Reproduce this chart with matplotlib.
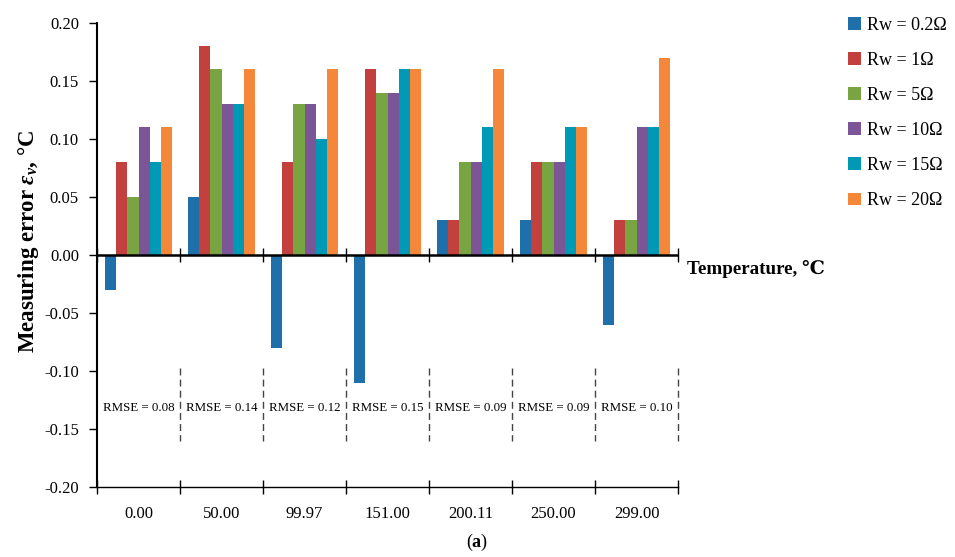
import numpy as np
import matplotlib
matplotlib.use("Agg")
import matplotlib.pyplot as plt

# data
temps = ["0.00", "50.00", "99.97", "151.00", "200.11", "250.00", "299.00"]
series = ["Rw = 0.2Ω", "Rw = 1Ω", "Rw = 5Ω", "Rw = 10Ω", "Rw = 15Ω", "Rw = 20Ω"]
rw_02 = [-0.03, 0.05, -0.08, -0.11, 0.03, 0.03, -0.06]
rw_1 = [0.08, 0.18, 0.08, 0.16, 0.03, 0.08, 0.03]
rw_5 = [0.05, 0.16, 0.13, 0.14, 0.08, 0.08, 0.03]
rw_10 = [0.11, 0.13, 0.13, 0.14, 0.08, 0.08, 0.11]
rw_15 = [0.08, 0.13, 0.10, 0.16, 0.11, 0.11, 0.11]
rw_20 = [0.11, 0.16, 0.16, 0.16, 0.16, 0.11, 0.17]
rmse = ["0.08", "0.14", "0.12", "0.15", "0.09", "0.09", "0.10"]
yticks = [-0.20, -0.15, -0.10, -0.05, 0.00, 0.05, 0.10, 0.15, 0.20]

colors = ["#1F6FAA", "#C2413F", "#78A442", "#7B5595", "#0099B5", "#F5873A"]

plt.rcParams["font.family"] = ["Liberation Serif", "DejaVu Serif"]
plt.rcParams["axes.unicode_minus"] = False
plt.rcParams["mathtext.fontset"] = "custom"
plt.rcParams["mathtext.it"] = "Liberation Serif:italic:bold"
plt.rcParams["mathtext.bf"] = "Liberation Serif:bold"
plt.rcParams["mathtext.rm"] = "Liberation Serif"

fig = plt.figure(figsize=(9.55, 5.57), dpi=100)
ax = fig.add_axes([0.1016, 0.1257, 0.6084, 0.833])

x = np.arange(len(temps))
n = len(series)
w = 0.8 / n
for i, (name, vals) in enumerate(zip(series, [rw_02, rw_1, rw_5, rw_10, rw_15, rw_20])):
    ax.bar(x + (i - (n - 1) / 2) * w, vals, w, color=colors[i], label=name, zorder=2)

ax.set_xlim(-0.5, len(temps) - 0.5)
ax.set_ylim(-0.20, 0.20)
ax.set_yticks(yticks)
ax.set_yticklabels([f"{v:.2f}" for v in yticks])
ax.tick_params(axis="y", direction="out", length=6, width=1, labelsize=12, pad=7)

# category labels at the bottom, ticks on boundaries
bounds = np.arange(len(temps) + 1) - 0.5
ax.set_xticks(x)
ax.set_xticklabels(temps)
ax.set_xticks(bounds, minor=True)
ax.tick_params(axis="x", which="major", length=0, labelsize=12, pad=14)
ax.tick_params(axis="x", which="minor", direction="inout", length=10, width=1)

for s in ["top", "right"]:
    ax.spines[s].set_visible(False)
ax.spines["left"].set_linewidth(1.5)
ax.spines["bottom"].set_linewidth(1.0)

# zero line with its own ticks
ax.axhline(0, color="black", lw=1.8, zorder=3)
sec = ax.secondary_xaxis(0.5)
sec.set_xticks(bounds)
sec.tick_params(direction="inout", length=10, width=1, labelbottom=False, labeltop=False)
sec.spines["bottom"].set_visible(False)
sec.spines["top"].set_visible(False)

# RMSE boxes
for b in bounds[1:]:
    ax.plot([b, b], [-0.097, -0.16], ls=(0, (5, 3)), color="#444444", lw=1, clip_on=False)
for xi, r in zip(x, rmse):
    ax.text(xi, -0.132, f"RMSE = {r}", ha="center", va="center", fontsize=9.3)

ax.set_ylabel(r"Measuring error $\epsilon_\nu$, °C", fontsize=16.5, fontweight="bold")
ax.yaxis.set_label_coords(-0.097, 0.53)
ax.text(1.015, 0.47, "Temperature, ℃", transform=ax.transAxes, fontsize=13.7,
        fontweight="bold", ha="left", va="center")

ax.legend(loc="upper left", bbox_to_anchor=(0.884, 0.976), bbox_transform=fig.transFigure,
          frameon=False, fontsize=13, labelspacing=1.0, handlelength=0.72, handleheight=0.72,
          handletextpad=0.35, borderaxespad=0, borderpad=0.2)

fig.text(0.5, 0.027, r"($\mathbf{a}$)", ha="center", va="center", fontsize=13)

fig.savefig("out.png", dpi=100)
